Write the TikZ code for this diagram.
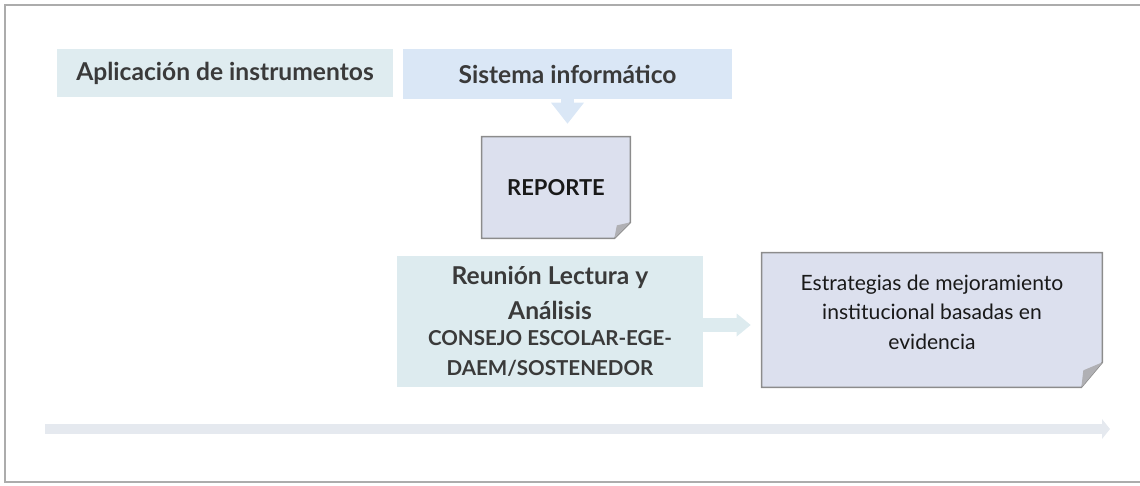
\documentclass[tikz,border=0pt]{standalone}
\usepackage{fontspec}
\setmainfont{Lato}
\usetikzlibrary{arrows.meta,backgrounds}

\definecolor{aplicfill}{HTML}{DFECF0}
\definecolor{sisfill}{HTML}{DAE7F6}
\definecolor{reunfill}{HTML}{DDEBEF}
\definecolor{notefill}{HTML}{DCE0EE}
\definecolor{notedraw}{HTML}{8C8C8C}
\definecolor{foldfill}{HTML}{B0B0B4}
\definecolor{timefill}{HTML}{E5E9EF}
\definecolor{headtext}{HTML}{3A3A3A}

\newcommand{\smallcaps}{\fontsize{11.7}{14}\selectfont}

\tikzset{
  headbox/.style={inner sep=0pt, text=headtext, font=\bfseries\fontsize{14}{17}\selectfont},
  notetext/.style={inner sep=0pt, text=black!90},
  notebox/.style={draw=notedraw, fill=notefill, line width=0.03cm},
  blockarrow/.style={line width=#1}
}

\begin{document}
\begin{tikzpicture}[x=0.02cm, y=-0.02cm]
  \useasboundingbox (0,0) rectangle (1140,485);
  \draw[gray!65, line width=0.04cm] (1140,5) -- (5,5) -- (5,482) -- (1140,482);

  % boxes
  \node[headbox, fill=aplicfill, minimum width=6.72cm, minimum height=0.96cm] (aplic) at (225,73) {Aplicación de instrumentos};
  \node[headbox, fill=sisfill, minimum width=6.58cm, minimum height=1.0cm] (sistema) at (567.5,74) {Sistema informático};
  \node[notetext, font=\bfseries\fontsize{12.5}{15}\selectfont, minimum width=2.96cm, minimum height=2.02cm] (reporte) at (556,187.5) {REPORTE};
  \node[headbox, fill=reunfill, minimum width=6.12cm, minimum height=2.62cm, align=center] (reunion) at (550,321.5)
    {Reunión Lectura y\\[3pt] Análisis\\[-2pt]
     \smallcaps CONSEJO ESCOLAR-EGE-\\[0pt] \smallcaps DAEM/SOSTENEDOR};
  \node[notetext, font=\fontsize{12}{17}\selectfont, minimum width=6.8cm, minimum height=2.68cm, align=center] (estrat) at (932,320)
    {Estrategias de mejoramiento\\ institucional basadas en\\ evidencia\\[-8pt]};

  \begin{scope}[on background layer]
    \draw[notebox] (reporte.north west) -- (reporte.north east) -- ([yshift=0.32cm]reporte.south east)
      -- ([xshift=-0.32cm]reporte.south east) -- (reporte.south west) -- cycle;
    \fill[foldfill] ([yshift=0.32cm]reporte.south east) -- ([xshift=-0.32cm]reporte.south east)
      -- ([xshift=-0.27cm,yshift=0.26cm]reporte.south east) -- cycle;
    \draw[notebox] (estrat.north west) -- (estrat.north east) -- ([yshift=0.5cm]estrat.south east)
      -- ([xshift=-0.42cm]estrat.south east) -- (estrat.south west) -- cycle;
    \fill[foldfill] ([yshift=0.5cm]estrat.south east) -- ([xshift=-0.42cm]estrat.south east)
      -- ([xshift=-0.38cm,yshift=0.34cm]estrat.south east) -- cycle;
  \end{scope}

  % arrows
  \draw[blockarrow=0.26cm, sisfill, -{Triangle[length=0.42cm, width=0.66cm, line width=0pt]}, shorten >=0.26cm]
    (sistema.south) -- (sistema.south |- reporte.north);
  \draw[blockarrow=0.28cm, reunfill, -{Triangle[length=0.28cm, width=0.46cm, line width=0pt]}, shorten >=0.22cm]
    ([yshift=-0.07cm]reunion.east) -- ([yshift=-0.07cm]reunion.east -| estrat.west);

  \coordinate (tstart) at (45,429);
  \coordinate (tend) at (1110,429);
  \draw[blockarrow=0.2cm, timefill, -{Triangle[length=0.16cm, width=0.4cm, line width=0pt]}] (tstart) -- (tend);
\end{tikzpicture}
\end{document}
